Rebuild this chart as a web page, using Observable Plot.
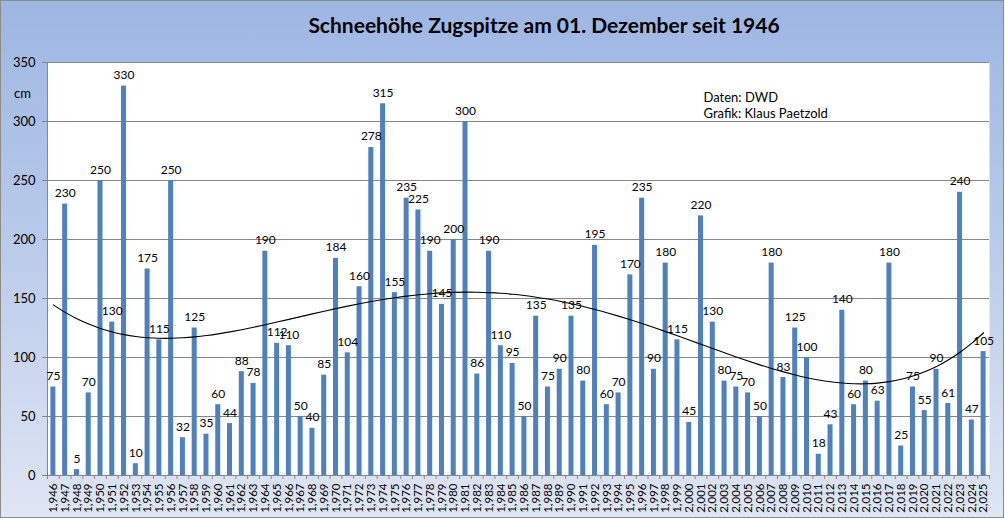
<!DOCTYPE html>
<html><head><meta charset="utf-8">
<script src="https://cdn.jsdelivr.net/npm/d3@7"></script>
<script src="https://cdn.jsdelivr.net/npm/@observablehq/plot@0.6"></script>
<style>
body{margin:0;background:#fff;}
#chart{position:relative;width:1004px;height:518px;box-sizing:border-box;border:1px solid #8c8c8c;background:linear-gradient(180deg,#9db6e2 0%,#b8caea 45%,#dfe6f4 100%);font-family:Lato,sans-serif;}
#title{height:43px;box-sizing:border-box;padding-top:12px;padding-left:84px;text-align:center;font-size:21px;line-height:24px;font-weight:bold;color:#000;}
svg{display:block;}
</style></head><body>
<div id="chart"><div id="title">Schneehöhe Zugspitze am 01. Dezember seit 1946</div></div>
<script>
const years = [1946,1947,1948,1949,1950,1951,1952,1953,1954,1955,1956,1957,1958,1959,1960,1961,1962,1963,1964,1965,1966,1967,1968,1969,1970,1971,1972,1973,1974,1975,1976,1977,1978,1979,1980,1981,1982,1983,1984,1985,1986,1987,1988,1989,1990,1991,1992,1993,1994,1995,1996,1997,1998,1999,2000,2001,2002,2003,2004,2005,2006,2007,2008,2009,2010,2011,2012,2013,2014,2015,2016,2017,2018,2019,2020,2021,2022,2023,2024,2025];
const snowDepth = [75,230,5,70,250,130,330,10,175,115,250,32,125,35,60,44,88,78,190,112,110,50,40,85,184,104,160,278,315,155,235,225,190,145,200,300,86,190,110,95,50,135,75,90,135,80,195,60,70,170,235,90,180,115,45,220,130,80,75,70,50,180,83,125,100,18,43,140,60,80,63,180,25,75,55,90,61,240,47,105];
const yTicks = [0,50,100,150,200,250,300,350];
const yUnit = "cm";
const credits = "Daten: DWD\nGrafik: Klaus Paetzold";
const trendDegree = 4;

const data = years.map((year, i) => ({year, value: snowDepth[i]}));

// Polynomial least-squares trend (like Excel's polynomial trendline)
function polyFit(xs, ys, deg) {
  const n = deg + 1;
  const A = Array.from({length: n}, () => new Array(n + 1).fill(0));
  for (let k = 0; k < xs.length; k++) {
    const p = []; let v = 1;
    for (let i = 0; i < 2 * n; i++) { p.push(v); v *= xs[k]; }
    for (let i = 0; i < n; i++) {
      for (let j = 0; j < n; j++) A[i][j] += p[i + j];
      A[i][n] += p[i] * ys[k];
    }
  }
  for (let c = 0; c < n; c++) {
    let piv = c;
    for (let r = c + 1; r < n; r++) if (Math.abs(A[r][c]) > Math.abs(A[piv][c])) piv = r;
    [A[c], A[piv]] = [A[piv], A[c]];
    for (let r = 0; r < n; r++) {
      if (r === c) continue;
      const f = A[r][c] / A[c][c];
      for (let j = c; j <= n; j++) A[r][j] -= f * A[c][j];
    }
  }
  return A.map((row, i) => row[n] / row[i]);
}
const mid = (years[0] + years[years.length - 1]) / 2;
const half = (years[years.length - 1] - years[0]) / 2;
const ts = years.map(y => (y - mid) / half);
const coef = polyFit(ts, snowDepth, trendDegree);
const trend = years.map((year, i) => ({year, value: coef.reduce((s, c, k) => s + c * Math.pow(ts[i], k), 0)}));

const W = 1002, H = 473, ML = 46, MR = 14, MT = 18, MB = 42;
const step = (W - ML - MR) / years.length;
const grid = "#878787";

const chart = Plot.plot({
  width: W, height: H,
  marginLeft: ML, marginRight: MR, marginTop: MT, marginBottom: MB,
  style: {background: "transparent", fontFamily: "Lato, sans-serif", fontSize: "12px", color: "#000", overflow: "visible"},
  x: {type: "band", domain: years, paddingInner: 0.575, paddingOuter: 0.2875, label: null},
  y: {domain: [0, 350], label: null},
  marks: [
    Plot.frame({fill: "white", stroke: null}),
    Plot.ruleY(yTicks, {stroke: grid, strokeWidth: 1}),
    Plot.frame({anchor: "left", stroke: grid}),
    Plot.barY(data, {x: "year", y: "value", fill: "#4f81bd"}),
    Plot.line(trend, {x: "year", y: "value", stroke: "#000", strokeWidth: 1.1, curve: "natural"}),
    Plot.text(data, {x: "year", y: "value", text: d => String(d.value), dy: -7, lineAnchor: "bottom", fontSize: 12, fill: "#000"}),
    Plot.axisY({ticks: yTicks, tickSize: 5, tickPadding: 7, fontSize: 13, stroke: grid, fill: "#000", label: null}),
    Plot.axisX({tickSize: 0, tickRotate: -90, tickPadding: 8, fontSize: 11.5, fill: "#000", label: null}),
    Plot.axisX({tickSize: 4, tickFormat: () => "", dx: -step / 2, stroke: grid, label: null}),
    Plot.axisX({ticks: [years[years.length - 1]], tickSize: 4, tickFormat: () => "", dx: step / 2, stroke: grid, label: null}),
    Plot.text([yUnit], {frameAnchor: "top-left", dx: -25, dy: 26, textAnchor: "middle", fontSize: 13, fill: "#000"}),
    Plot.text([credits], {frameAnchor: "top-left", dx: 656, dy: 27, textAnchor: "start", lineAnchor: "top", lineHeight: 1.3, fontSize: 13, fill: "#000"})
  ]
});
document.getElementById("chart").appendChild(chart);
</script>
</body></html>
